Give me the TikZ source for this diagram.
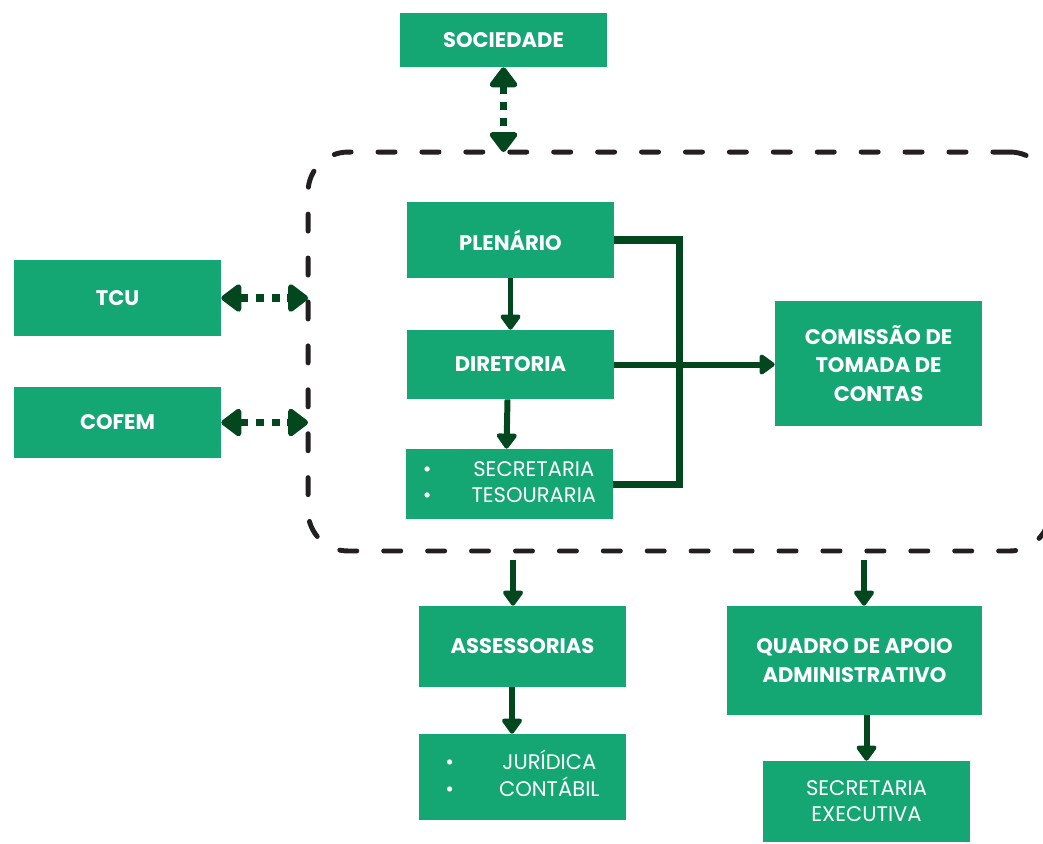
\documentclass[tikz,border=0pt]{standalone}
\usepackage{fontspec}
\setmainfont{Poppins}
\usetikzlibrary{arrows.meta}
\definecolor{boxgreen}{HTML}{14A673}
\definecolor{darkgreen}{HTML}{03471E}
\definecolor{dashgray}{HTML}{231F20}

\begin{document}
\begin{tikzpicture}[
    x=0.02cm, y=-0.02cm,
    box/.style={rectangle,fill=boxgreen,text=white,inner sep=0pt,align=center,
        minimum width=4.14cm,font=\bfseries\fontsize{12}{16}\selectfont},
    item/.style={box,font=\fontsize{12}{14.7}\selectfont},
    frame/.style={draw=dashgray,line width=2.8pt,line cap=round,
        dash pattern=on 9.7pt off 15.3pt,rounded corners=0.8cm,
        inner sep=0pt,outer sep=0pt,minimum width=14.84cm,minimum height=7.98cm},
    flow/.style={draw=darkgreen,line width=3.4pt,-{Triangle[width=13pt,length=9.5pt,round]}},
    twoway/.style={draw=darkgreen,line width=4pt,dash pattern=on 4.5pt off 4.5pt,
        {Triangle[width=18pt,length=12.5pt,round]}-{Triangle[width=18pt,length=12.5pt,round]}},
    bus/.style={draw=darkgreen,line width=4pt,line join=miter},
]
\useasboundingbox (0,0) rectangle (1043,843);
\clip (0,0) rectangle (1043,843);

% conselho (dashed frame)
\node[frame] (conselho) at (679,351.5) {};

% outer boxes
\node[box,minimum height=1.08cm] (soc) at (503.5,40) {SOCIEDADE};
\node[box,minimum height=1.52cm] (tcu) at (117.5,298) {TCU};
\node[box,minimum height=1.42cm] (cofem) at (117.5,422.5) {COFEM};

% inside the frame
\node[box,minimum height=1.52cm] (plenario) at (510.5,240) {PLENÁRIO};
\node[box,minimum height=1.38cm] (diretoria) at (510.5,364.5) {DIRETORIA};
\node[item,minimum height=1.40cm] (secret) at (509.5,484)
    {\begin{tabular}{@{}c@{\hspace{0.8cm}}c@{}}
     \textbullet & SECRETARIA\\ \textbullet & TESOURARIA
     \end{tabular}};
\node[box,minimum height=2.50cm] (comissao) at (878.5,363.5) {COMISSÃO DE\\TOMADA DE\\CONTAS};

% below the frame
\node[box,minimum height=1.62cm] (assess) at (522.5,646.5) {ASSESSORIAS};
\node[item,minimum height=1.72cm] (jurid) at (522.5,777)
    {\begin{tabular}{@{}c@{\hspace{0.9cm}}c@{}}
     \textbullet & JURÍDICA\\ \textbullet & CONTÁBIL
     \end{tabular}};
\node[box,minimum width=5.10cm,minimum height=2.18cm] (quadro) at (854.5,660.5) {QUADRO DE APOIO\\ADMINISTRATIVO};
\node[item,minimum height=1.62cm] (secexec) at (866.5,801.5) {SECRETARIA\\EXECUTIVA};

% two-way links
\draw[twoway] (soc.south) -- (soc.south |- conselho.north);
\draw[twoway] (tcu.east) -- (tcu.east -| conselho.west);
\draw[twoway] (cofem.east) -- (cofem.east -| conselho.west);

% flows
\draw[flow] (plenario.south) -- (diretoria.north);
\draw[flow] ([xshift=-0.06cm]diretoria.south) -- ([xshift=-0.06cm]secret.north);
\draw[bus] (plenario.east) -- ++(65,0) |- (secret.east);
\draw[flow] (diretoria.east) -- (diretoria.east -| comissao.west);
\draw[flow,shorten <=5pt] ([xshift=-0.19cm]conselho.south -| assess.north) -- ([xshift=-0.19cm]assess.north);
\draw[flow,shorten <=5pt] ([xshift=0.19cm]conselho.south -| quadro.north) -- ([xshift=0.19cm]quadro.north);
\draw[flow] ([xshift=-0.21cm]assess.south) -- ([xshift=-0.21cm]jurid.north);
\draw[flow] (quadro.south -| secexec.north) -- (secexec.north);
\end{tikzpicture}
\end{document}
